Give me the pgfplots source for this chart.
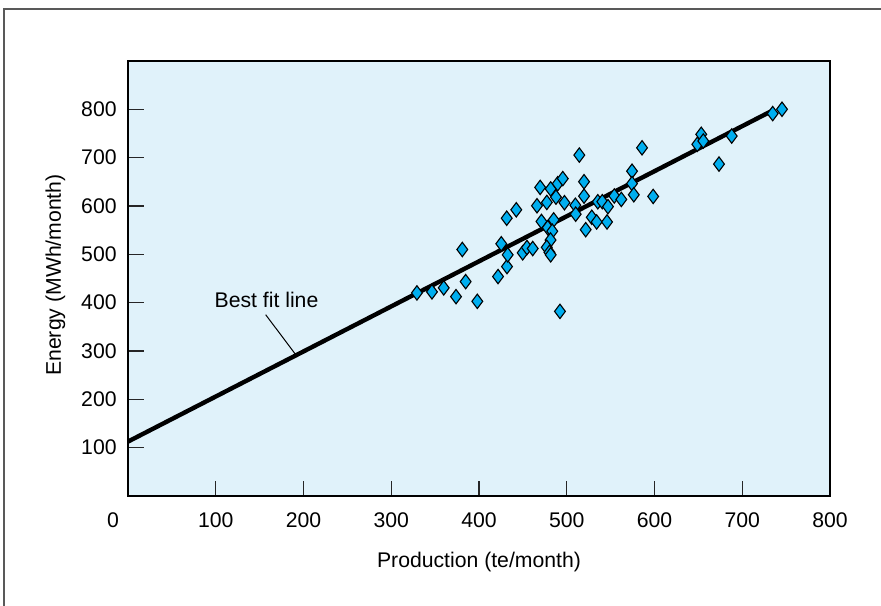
\documentclass[border=0pt]{standalone}
\usepackage{fontspec}
\setmainfont{Liberation Sans}
\usepackage{pgfplots}
\pgfplotsset{compat=1.18}
\definecolor{bgblue}{HTML}{E0F2FA}
\definecolor{mkblue}{HTML}{00AEEF}
\begin{document}
\fontsize{10.6}{12.7}\selectfont
\begin{tikzpicture}
\useasboundingbox (-64pt,-54.5pt) rectangle (376.5pt,248pt);
\draw[line width=0.8pt, black!65] (-62pt,-60pt) -- (-62pt,243.5pt) -- (380pt,243.5pt);
\begin{axis}[
  at={(0,0)}, anchor=south west,
  scale only axis, width=351pt, height=217.5pt,
  xmin=0, xmax=800, ymin=0, ymax=900,
  clip=false,
  xtick={100,200,...,800}, ytick={100,200,...,800},
  axis line style={line width=1.2pt},
  tick align=inside, tick pos=left,
  major tick length=7.75pt,
  tick style={line width=0.6pt, black!85},
  xticklabel style={anchor=north, inner sep=0pt, yshift=-8pt},
  yticklabel style={anchor=east, inner sep=0pt, xshift=-5.5pt},
  /pgf/number format/assume math mode=true,
  axis background/.style={fill=bgblue},
  xlabel={Production (te/month)},
  ylabel={Energy (MWh/month)},
  xlabel style={at={(axis description cs:0.5,0)}, anchor=north, inner sep=0pt, yshift=-27.85pt},
  every axis y label/.style={at={(axis description cs:0,0.5)}, shift={(-41.5pt,1.75pt)}, rotate=90, anchor=north, inner sep=0pt},
]
\addplot[line width=2.2pt, black] coordinates {(0,112.6) (733.6,796.6)};
\addplot[only marks, mark=diamond*, mark size=3.6pt,
  mark options={fill=mkblue, draw=black, line width=0.55pt}] table {
x y
329.3 420.2
346.4 422.3
359.8 430.6
373.8 412.5
384.8 443.6
398.1 402.8
381.0 510.0
421.7 454.0
431.9 474.7
432.7 499.0
425.4 521.8
431.6 574.8
442.5 592.2
449.8 503.1
454.7 514.1
461.2 512.0
471.2 568.0
466.1 600.5
469.7 638.5
477.3 607.4
481.7 635.4
487.7 618.4
489.7 646.1
495.5 656.7
497.4 606.8
478.3 555.1
485.1 571.3
483.5 547.9
481.5 529.6
477.2 514.5
480.3 504.1
481.7 499.0
492.3 382.0
514.3 705.4
509.8 601.6
510.2 583.1
519.7 650.3
519.7 620.4
521.6 551.0
528.5 576.7
534.1 567.0
545.9 567.0
535.4 608.8
540.5 609.0
547.0 598.7
554.2 620.8
562.2 613.6
574.4 672.1
574.4 646.4
576.4 623.3
585.8 720.4
598.5 619.8
648.8 727.6
653.3 748.3
655.6 734.5
673.5 686.8
688.0 744.8
734.7 791.2
745.3 800.2
};
\draw[line width=0.5pt] (axis cs:156.9,375.2) -- (axis cs:190.3,294.4);
\node[anchor=base, inner sep=0pt] at (axis cs:157.8,389.7) {Best fit line};
\node[anchor=north, inner sep=0pt, xshift=-7.5pt, yshift=-8pt] at (axis cs:0,0) {0};
\end{axis}
\end{tikzpicture}
\end{document}
